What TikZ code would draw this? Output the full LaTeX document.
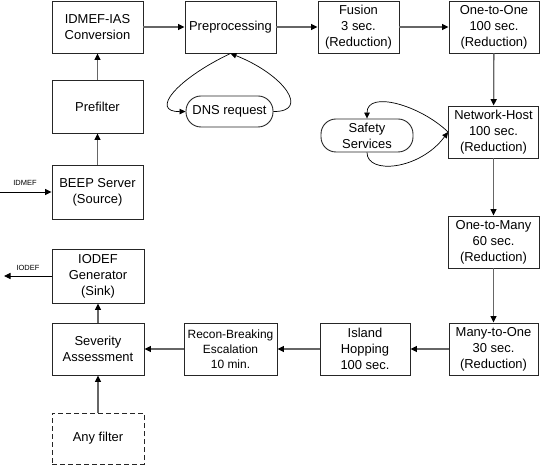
\documentclass[tikz,border=0pt]{standalone}
\usepackage{fontspec}
\setmainfont{Liberation Sans}
\usetikzlibrary{arrows.meta}
\begin{document}
\begin{tikzpicture}[x=1bp,y=-1bp,
  box/.style={draw=black!85,line width=0.9pt,inner sep=0pt,align=center,
    font=\fontsize{13}{16}\selectfont},
  pill/.style={box,rounded corners=15bp},
  flow/.style={draw=black!60,line width=1.3pt,-{Triangle[length=6.5bp,width=6bp,color=black]}},
  loop/.style={draw=black,line width=0.7pt,-{Triangle[length=6bp,width=5.5bp]}},
  io/.style={draw=black,line width=0.9pt,-{Triangle[length=6.5bp,width=6bp]}},
  lbl/.style={font=\fontsize{7.5}{9}\selectfont,inner sep=0pt}]
\path[use as bounding box] (0,0) rectangle (542,466);
\node[box,minimum width=91bp,minimum height=52bp] (conv) at (97.5,27) {IDMEF-IAS\\Conversion};
\node[box,minimum width=91bp,minimum height=52bp] (pre) at (230.5,27) {Preprocessing};
\node[box,minimum width=81bp,minimum height=52bp] (fus) at (358.5,27) {Fusion\\3 sec.\\(Reduction)};
\node[box,minimum width=90bp,minimum height=52bp] (o2o) at (494,27) {One-to-One\\100 sec.\\(Reduction)};
\node[box,minimum width=90bp,minimum height=52bp] (nh) at (493.5,132) {Network-Host\\100 sec.\\(Reduction)};
\node[pill,minimum width=92bp,minimum height=33bp] (safe) at (367,135.5) {Safety\\Services};
\node[pill,minimum width=87bp,minimum height=31bp] (dns) at (229.5,111.5) {DNS request};
\node[box,minimum width=91bp,minimum height=52bp] (o2m) at (493.5,242) {One-to-Many\\60 sec.\\(Reduction)};
\node[box,minimum width=89bp,minimum height=52bp] (m2o) at (493.5,349) {Many-to-One\\30 sec.\\(Reduction)};
\node[box,minimum width=90bp,minimum height=52bp] (isl) at (365,349) {Island\\Hopping\\100 sec.};
\node[box,minimum width=93bp,minimum height=52bp,font=\fontsize{12}{15}\selectfont] (rec) at (230.5,349) {Recon-Breaking\\Escalation\\10 min.};
\node[box,minimum width=92bp,minimum height=52bp] (sev) at (98,349) {Severity\\Assessment};
\node[box,minimum width=92bp,minimum height=54bp] (iog) at (98,276) {IODEF\\Generator\\(Sink)};
\node[box,dashed,dash pattern=on 5bp off 3bp,minimum width=92bp,minimum height=51bp] (any) at (98,438.5) {Any filter};
\node[box,minimum width=91bp,minimum height=54bp] (beep) at (97.5,192) {BEEP Server\\(Source)};
\node[box,minimum width=91bp,minimum height=53bp] (pf) at (97.5,106.5) {Prefilter};
\coordinate (in) at (0,192);
\coordinate (out) at (4,276);
\node[lbl] (lin) at (25,183) {IDMEF};
\node[lbl] (lout) at (28,268) {IODEF};
\draw[io] (in) -- (beep.west);
\draw[io] (iog.west) -- (out);
\draw[flow] (beep) -- (pf);
\draw[flow] (pf) -- (conv);
\draw[flow] (conv) -- (pre);
\draw[flow] (pre) -- (fus);
\draw[flow] (fus) -- (o2o);
\draw[flow] (o2o) -- (nh);
\draw[flow] (nh) -- (o2m);
\draw[flow] (o2m) -- (m2o);
\draw[flow] (m2o) -- (isl);
\draw[flow] (isl) -- (rec);
\draw[flow] (rec) -- (sev);
\draw[flow] (any) -- (sev);
\draw[flow] (sev) -- (iog);
\draw[loop] (pre.south) .. controls (175,80) and (150,112) .. (dns.west);
\draw[loop] (dns.east) .. controls (310,112) and (285,75) .. (pre.south);
\draw[loop] (nh.west) .. controls (420,105) and (367,90) .. (safe.north);
\draw[loop] (safe.south) .. controls (367,175) and (420,170) .. (nh.west);
\end{tikzpicture}
\end{document}
